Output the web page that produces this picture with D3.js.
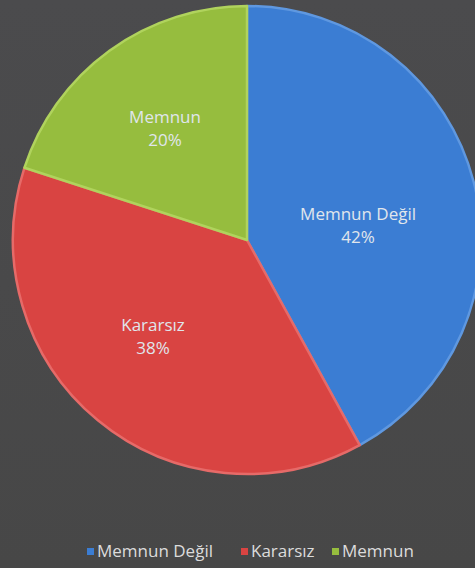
<!DOCTYPE html>
<html>
<head>
<meta charset="utf-8">
<script src="https://cdn.jsdelivr.net/npm/d3@7"></script>
<style>
  html, body { margin: 0; padding: 0; background: #4a4a4a; }
  svg { display: block; }
</style>
</head>
<body>
<div id="chart"></div>
<script>
var categories = ["Memnun Değil", "Kararsız", "Memnun"];
var values = [42, 38, 20];
var colors = ["#3b7dd3", "#d94442", "#96bd3e"];
var edges = ["#5f98e0", "#e66a68", "#b0d35d"];

var width = 475, height = 568;
var cx = 247, cy = 240, radius = 234;

var svg = d3.select("#chart")
    .append("svg")
    .attr("width", width)
    .attr("height", height);

var bg = svg.append("defs").append("linearGradient")
    .attr("id", "bg")
    .attr("x1", 0).attr("y1", 0).attr("x2", 0).attr("y2", 1);
bg.append("stop").attr("offset", "0%").attr("stop-color", "#4b4b4d");
bg.append("stop").attr("offset", "100%").attr("stop-color", "#474747");

svg.append("rect")
    .attr("width", width)
    .attr("height", height)
    .attr("fill", "url(#bg)");

var pie = d3.pie().sort(null).value(function(d) { return d; });
var arc = d3.arc().innerRadius(0).outerRadius(radius);

var g = svg.append("g")
    .attr("transform", "translate(" + cx + "," + cy + ")");

var arcs = pie(values);

g.selectAll("path.slice")
    .data(arcs)
    .enter()
    .append("path")
    .attr("class", "slice")
    .attr("d", arc)
    .attr("fill", function(d, i) { return colors[i]; })
    .attr("stroke", function(d, i) { return edges[i]; })
    .attr("stroke-width", 2.5)
    .attr("stroke-linejoin", "round");

// label placement, fraction of radius (Excel best fit moves them about)
var labelR = [0.479, 0.574, 0.593];
var labelShift = [6.7, 4.8, -0.2];

var labels = g.selectAll("g.label")
    .data(arcs)
    .enter()
    .append("g")
    .attr("class", "label")
    .attr("transform", function(d, i) {
        var a = (d.startAngle + d.endAngle) / 2 + labelShift[i] * Math.PI / 180;
        var r = radius * labelR[i];
        return "translate(" + (Math.sin(a) * r) + "," + (-Math.cos(a) * r) + ")";
    });

labels.append("text")
    .attr("text-anchor", "middle")
    .attr("y", -5)
    .style("font-family", "'Open Sans', sans-serif")
    .style("font-size", "17px")
    .style("fill", "#e0e6ec")
    .text(function(d, i) { return categories[i]; });

labels.append("text")
    .attr("text-anchor", "middle")
    .attr("y", 18)
    .style("font-family", "'Open Sans', sans-serif")
    .style("font-size", "17px")
    .style("fill", "#e0e6ec")
    .text(function(d, i) { return values[i] + "%"; });

// Legend
var legendX = [87, 241, 332];
var legend = svg.append("g")
    .attr("transform", "translate(0,551)");

var items = legend.selectAll("g.item")
    .data(categories)
    .enter()
    .append("g")
    .attr("class", "item")
    .attr("transform", function(d, i) { return "translate(" + legendX[i] + ",0)"; });

items.append("rect")
    .attr("x", 0)
    .attr("y", -3)
    .attr("width", 7)
    .attr("height", 7)
    .attr("fill", function(d, i) { return colors[i]; });

items.append("text")
    .attr("x", 10)
    .attr("y", 6)
    .style("font-family", "'Open Sans', sans-serif")
    .style("font-size", "17px")
    .style("fill", "#dcdcdc")
    .text(function(d) { return d; });
</script>
</body>
</html>
